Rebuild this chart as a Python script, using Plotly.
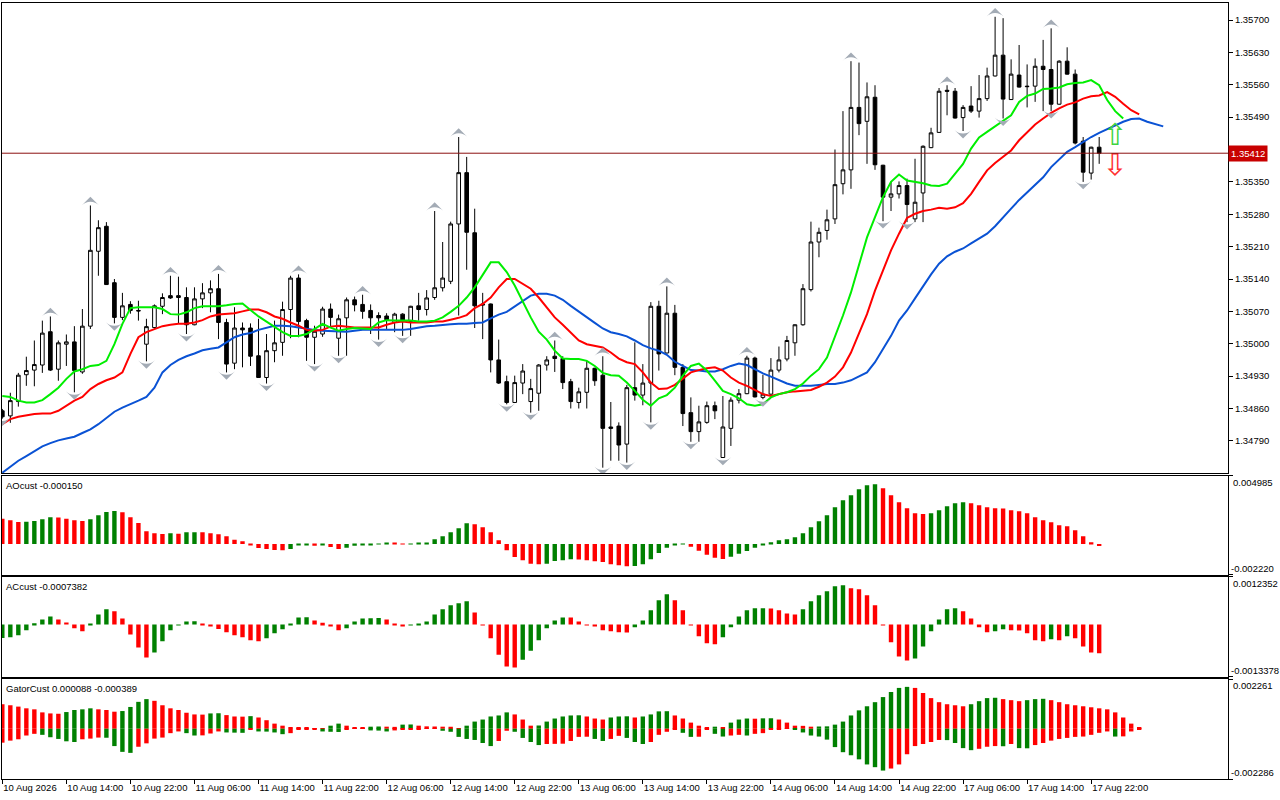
import numpy as np
import plotly.graph_objects as go
from plotly.subplots import make_subplots

# H1 bars, bar 0 = 10 Aug 2026 06:00
bar_open = [
    1.34855, 1.34844, 1.34875, 1.34933, 1.34943, 1.34954, 1.35026, 1.34945, 1.34999, 1.35004,
    1.34939, 1.35038, 1.35200, 1.35254, 1.35132, 1.35057, 1.35085, 1.35072, 1.34999, 1.35035,
    1.35081, 1.35104, 1.35104, 1.35100, 1.35041, 1.35097, 1.35110, 1.35119, 1.35046, 1.34958,
    1.35034, 1.35034, 1.34974, 1.34927, 1.34985, 1.35003, 1.35074, 1.35142, 1.35050, 1.35014,
    1.35021, 1.35075, 1.35012, 1.35056, 1.35095, 1.35085, 1.35072, 1.35061, 1.35060, 1.35046,
    1.35064, 1.35048, 1.35082, 1.35074, 1.35100, 1.35121, 1.35135, 1.35259, 1.35370, 1.35240,
    1.35086, 1.35086, 1.34965, 1.34918, 1.34873, 1.34915, 1.34875, 1.34893, 1.34954, 1.34973,
    1.34968, 1.34918, 1.34873, 1.34895, 1.34947, 1.34932, 1.34820, 1.34822, 1.34783, 1.34905,
    1.34889, 1.34915, 1.35081, 1.34980, 1.35066, 1.34949, 1.34851, 1.34810, 1.34830, 1.34866,
    1.34754, 1.34817, 1.34878, 1.34892, 1.34969, 1.34884, 1.34891, 1.34943, 1.34967, 1.35002,
    1.35041, 1.35117, 1.35220, 1.35245, 1.35270, 1.35346, 1.35376, 1.35511, 1.35481, 1.35533,
    1.35386, 1.35317, 1.35324, 1.35342, 1.35270, 1.35326, 1.35424, 1.35457, 1.35548, 1.35546,
    1.35489, 1.35514, 1.35503, 1.35530, 1.35579, 1.35624, 1.35528, 1.35581, 1.35557, 1.35557,
    1.35600, 1.35593, 1.35518, 1.35611, 1.35583, 1.35438, 1.35369, 1.35425,
]
bar_high = [
    1.34859, 1.34894, 1.34937, 1.34972, 1.35007, 1.35050, 1.35059, 1.35007, 1.35020, 1.35038,
    1.35075, 1.35299, 1.35267, 1.35263, 1.35140, 1.35110, 1.35092, 1.35093, 1.35054, 1.35085,
    1.35109, 1.35147, 1.35145, 1.35122, 1.35122, 1.35131, 1.35137, 1.35151, 1.35054, 1.35079,
    1.35046, 1.35044, 1.35054, 1.35021, 1.35050, 1.35091, 1.35147, 1.35150, 1.35054, 1.35039,
    1.35080, 1.35087, 1.35063, 1.35100, 1.35102, 1.35106, 1.35085, 1.35068, 1.35066, 1.35067,
    1.35066, 1.35082, 1.35110, 1.35116, 1.35287, 1.35220, 1.35264, 1.35447, 1.35404, 1.35292,
    1.35110, 1.35087, 1.35009, 1.34931, 1.34931, 1.34956, 1.34924, 1.34956, 1.34973, 1.35007,
    1.34973, 1.34924, 1.34905, 1.34963, 1.34948, 1.34973, 1.34874, 1.34830, 1.34911, 1.35003,
    1.34956, 1.35090, 1.35093, 1.35124, 1.35084, 1.34956, 1.34884, 1.34866, 1.34875, 1.34875,
    1.34887, 1.34884, 1.34902, 1.34974, 1.34972, 1.34933, 1.34969, 1.34994, 1.35017, 1.35042,
    1.35129, 1.35264, 1.35251, 1.35290, 1.35420, 1.35503, 1.35611, 1.35608, 1.35565, 1.35559,
    1.35387, 1.35350, 1.35351, 1.35357, 1.35400, 1.35429, 1.35467, 1.35553, 1.35559, 1.35553,
    1.35516, 1.35557, 1.35581, 1.35597, 1.35707, 1.35704, 1.35615, 1.35646, 1.35604, 1.35617,
    1.35657, 1.35682, 1.35613, 1.35641, 1.35593, 1.35447, 1.35426, 1.35447,
]
bar_low = [
    1.34838, 1.34829, 1.34864, 1.34909, 1.34908, 1.34937, 1.34941, 1.34920, 1.34952, 1.34895,
    1.34935, 1.35032, 1.35147, 1.35127, 1.35044, 1.35051, 1.35065, 1.35050, 1.34962, 1.35032,
    1.35064, 1.35097, 1.35044, 1.35021, 1.35040, 1.35077, 1.35068, 1.35010, 1.34938, 1.34945,
    1.34949, 1.34952, 1.34926, 1.34914, 1.34960, 1.34974, 1.35012, 1.35014, 1.34963, 1.34956,
    1.35015, 1.35035, 1.34974, 1.34974, 1.35070, 1.35054, 1.35021, 1.35009, 1.35032, 1.35025,
    1.35017, 1.35017, 1.35050, 1.35061, 1.35095, 1.35113, 1.35129, 1.35061, 1.35160, 1.35034,
    1.35010, 1.34938, 1.34913, 1.34869, 1.34872, 1.34891, 1.34851, 1.34855, 1.34942, 1.34939,
    1.34902, 1.34860, 1.34860, 1.34860, 1.34909, 1.34732, 1.34747, 1.34747, 1.34743, 1.34877,
    1.34867, 1.34830, 1.34942, 1.34979, 1.34932, 1.34822, 1.34788, 1.34788, 1.34827, 1.34837,
    1.34753, 1.34779, 1.34871, 1.34891, 1.34884, 1.34880, 1.34890, 1.34938, 1.34962, 1.34974,
    1.35039, 1.35113, 1.35187, 1.35225, 1.35259, 1.35323, 1.35335, 1.35451, 1.35389, 1.35376,
    1.35265, 1.35287, 1.35314, 1.35263, 1.35263, 1.35263, 1.35423, 1.35456, 1.35494, 1.35487,
    1.35460, 1.35499, 1.35489, 1.35525, 1.35578, 1.35487, 1.35527, 1.35554, 1.35511, 1.35523,
    1.35503, 1.35503, 1.35517, 1.35582, 1.35431, 1.35350, 1.35355, 1.35389,
]
bar_close = [
    1.34842, 1.34877, 1.34932, 1.34942, 1.34955, 1.35023, 1.34943, 1.35002, 1.35004, 1.34942,
    1.35038, 1.35202, 1.35251, 1.35128, 1.35057, 1.35082, 1.35072, 1.35071, 1.35037, 1.35082,
    1.35100, 1.35099, 1.35100, 1.35041, 1.35097, 1.35110, 1.35119, 1.35046, 1.34956, 1.35034,
    1.35030, 1.34973, 1.34927, 1.34985, 1.35002, 1.35074, 1.35142, 1.35048, 1.35014, 1.35027,
    1.35075, 1.35057, 1.35054, 1.35095, 1.35084, 1.35070, 1.35056, 1.35056, 1.35052, 1.35064,
    1.35048, 1.35081, 1.35074, 1.35099, 1.35121, 1.35142, 1.35259, 1.35370, 1.35241, 1.35082,
    1.35084, 1.34965, 1.34915, 1.34873, 1.34916, 1.34941, 1.34903, 1.34954, 1.34965, 1.34968,
    1.34916, 1.34875, 1.34896, 1.34947, 1.34920, 1.34817, 1.34817, 1.34781, 1.34905, 1.34889,
    1.34915, 1.35081, 1.34978, 1.35066, 1.34949, 1.34849, 1.34810, 1.34831, 1.34866, 1.34855,
    1.34820, 1.34878, 1.34892, 1.34969, 1.34885, 1.34891, 1.34943, 1.34965, 1.35007, 1.35041,
    1.35119, 1.35220, 1.35241, 1.35268, 1.35344, 1.35376, 1.35511, 1.35476, 1.35534, 1.35387,
    1.35317, 1.35324, 1.35342, 1.35301, 1.35306, 1.35427, 1.35456, 1.35546, 1.35546, 1.35488,
    1.35511, 1.35503, 1.35530, 1.35579, 1.35624, 1.35529, 1.35583, 1.35555, 1.35556, 1.35600,
    1.35593, 1.35518, 1.35611, 1.35583, 1.35434, 1.35371, 1.35425, 1.35412,
]

# Alligator lines as drawn (lips +3 bars, teeth +5, jaw +8 ahead of price)
lips = [
    1.34887, 1.34885, 1.34877, 1.34873, 1.34873, 1.34878, 1.34891, 1.34905, 1.34924, 1.34940,
    1.34945, 1.34952, 1.34954, 1.34963, 1.34999, 1.35043, 1.35077, 1.35079, 1.35079, 1.35079,
    1.35075, 1.35064, 1.35063, 1.35068, 1.35077, 1.35081, 1.35081, 1.35081, 1.35083, 1.35086,
    1.35087, 1.35072, 1.35059, 1.35048, 1.35037, 1.35025, 1.35017, 1.35017, 1.35021, 1.35032,
    1.35043, 1.35035, 1.35028, 1.35032, 1.35034, 1.35033, 1.35032, 1.35046, 1.35051, 1.35050,
    1.35050, 1.35050, 1.35048, 1.35048, 1.35050, 1.35057, 1.35069, 1.35082, 1.35100, 1.35122,
    1.35149, 1.35176, 1.35176, 1.35155, 1.35126, 1.35090, 1.35057, 1.35026, 1.35009, 1.34985,
    1.34968, 1.34967, 1.34967, 1.34963, 1.34952, 1.34937, 1.34932, 1.34931, 1.34916, 1.34898,
    1.34879, 1.34866, 1.34882, 1.34889, 1.34905, 1.34931, 1.34952, 1.34957, 1.34942, 1.34920,
    1.34898, 1.34891, 1.34882, 1.34869, 1.34866, 1.34869, 1.34884, 1.34891, 1.34895, 1.34902,
    1.34914, 1.34931, 1.34945, 1.34970, 1.35014, 1.35061, 1.35111, 1.35173, 1.35230, 1.35274,
    1.35317, 1.35350, 1.35366, 1.35353, 1.35350, 1.35347, 1.35342, 1.35341, 1.35346, 1.35368,
    1.35389, 1.35422, 1.35446, 1.35458, 1.35470, 1.35482, 1.35494, 1.35523, 1.35536, 1.35541,
    1.35551, 1.35552, 1.35554, 1.35561, 1.35564, 1.35565, 1.35570, 1.35559, 1.35527, 1.35503,
    1.35487,
]
teeth = [
    1.34826, 1.34837, 1.34842, 1.34845, 1.34848, 1.34849, 1.34849, 1.34855, 1.34866, 1.34877,
    1.34885, 1.34902, 1.34913, 1.34921, 1.34927, 1.34938, 1.34978, 1.35014, 1.35025, 1.35032,
    1.35038, 1.35041, 1.35043, 1.35043, 1.35046, 1.35051, 1.35059, 1.35063, 1.35064, 1.35066,
    1.35070, 1.35074, 1.35074, 1.35068, 1.35059, 1.35054, 1.35046, 1.35039, 1.35030, 1.35028,
    1.35030, 1.35037, 1.35039, 1.35037, 1.35035, 1.35035, 1.35035, 1.35035, 1.35041, 1.35046,
    1.35048, 1.35046, 1.35046, 1.35046, 1.35048, 1.35048, 1.35052, 1.35056, 1.35062, 1.35077,
    1.35086, 1.35100, 1.35122, 1.35140, 1.35140, 1.35129, 1.35119, 1.35100, 1.35079, 1.35057,
    1.35041, 1.35023, 1.35007, 1.34999, 1.34996, 1.34992, 1.34981, 1.34968, 1.34960, 1.34956,
    1.34938, 1.34916, 1.34902, 1.34903, 1.34911, 1.34924, 1.34938, 1.34943, 1.34947, 1.34949,
    1.34942, 1.34927, 1.34916, 1.34909, 1.34900, 1.34891, 1.34887, 1.34891, 1.34895, 1.34897,
    1.34898, 1.34900, 1.34907, 1.34916, 1.34929, 1.34949, 1.34981, 1.35021, 1.35064, 1.35115,
    1.35158, 1.35202, 1.35238, 1.35272, 1.35281, 1.35287, 1.35290, 1.35294, 1.35292, 1.35295,
    1.35304, 1.35324, 1.35350, 1.35375, 1.35391, 1.35404, 1.35418, 1.35440, 1.35458, 1.35474,
    1.35487, 1.35499, 1.35509, 1.35517, 1.35522, 1.35530, 1.35535, 1.35537, 1.35544, 1.35534,
    1.35519, 1.35505, 1.35496,
]
jaw = [
    1.34721, 1.34734, 1.34747, 1.34757, 1.34768, 1.34778, 1.34785, 1.34791, 1.34795, 1.34799,
    1.34807, 1.34815, 1.34826, 1.34839, 1.34853, 1.34862, 1.34869, 1.34877, 1.34885, 1.34905,
    1.34938, 1.34954, 1.34965, 1.34973, 1.34979, 1.34986, 1.34989, 1.34992, 1.35003, 1.35014,
    1.35020, 1.35023, 1.35030, 1.35035, 1.35039, 1.35039, 1.35038, 1.35035, 1.35032, 1.35030,
    1.35028, 1.35027, 1.35026, 1.35026, 1.35028, 1.35030, 1.35030, 1.35030, 1.35030, 1.35030,
    1.35030, 1.35032, 1.35035, 1.35038, 1.35039, 1.35041, 1.35042, 1.35043, 1.35043, 1.35045,
    1.35046, 1.35055, 1.35063, 1.35069, 1.35081, 1.35093, 1.35104, 1.35108, 1.35108, 1.35104,
    1.35095, 1.35082, 1.35069, 1.35057, 1.35045, 1.35033, 1.35025, 1.35021, 1.35016, 1.35007,
    1.34997, 1.34990, 1.34985, 1.34976, 1.34961, 1.34952, 1.34943, 1.34942, 1.34940, 1.34940,
    1.34945, 1.34952, 1.34957, 1.34954, 1.34945, 1.34936, 1.34929, 1.34921, 1.34914, 1.34909,
    1.34909, 1.34909, 1.34911, 1.34913, 1.34913, 1.34916, 1.34921, 1.34929, 1.34938, 1.34960,
    1.34989, 1.35017, 1.35050, 1.35072, 1.35098, 1.35124, 1.35150, 1.35173, 1.35189, 1.35199,
    1.35206, 1.35217, 1.35228, 1.35238, 1.35254, 1.35274, 1.35292, 1.35311, 1.35328, 1.35345,
    1.35360, 1.35382, 1.35398, 1.35415, 1.35425, 1.35436, 1.35447, 1.35456, 1.35464, 1.35472,
    1.35480, 1.35486, 1.35487, 1.35480, 1.35475, 1.35470,
]

fractal_up = [6, 11, 21, 27, 37, 45, 54, 57, 69, 75, 83, 93, 106, 118, 124, 131]
fractal_down = [0, 9, 14, 18, 23, 28, 33, 39, 42, 47, 50, 63, 66, 75, 78, 81, 86, 90, 95,
                110, 113, 120, 125, 131, 135]

# signal arrows right of the last bar
signal_bar = [139]
signal_buy = [1.35446]
signal_sell = [1.35382]

# oscillators, in millionths
ao_micro = [
    1844, 1723, 1602, 1626, 1675, 1796, 1942, 1929, 1844, 1723,
    1675, 1796, 2087, 2330, 2403, 2306, 1942, 1529, 922, 777,
    728, 777, 752, 849, 862, 849, 777, 704, 558, 316,
    194, -73, -291, -364, -437, -461, -364, -97, -73, -121,
    -61, -218, -364, -267, -121, -73, -49, -24, 97, 49,
    24, 36, 49, 61, 340, 558, 849, 1141, 1505, 1432,
    1214, 849, 267, -461, -947, -1189, -1432, -1480, -1432, -1238,
    -1189, -1116, -1129, -1189, -1262, -1311, -1480, -1553, -1626, -1602,
    -1480, -1116, -655, -267, -49, -36, -194, -485, -777, -995,
    -1092, -922, -704, -510, -267, -49, 121, 267, 340, 485,
    777, 1214, 1650, 2087, 2670, 3179, 3543, 3980, 4272, 4344,
    4053, 3543, 3034, 2597, 2233, 2184, 2233, 2451, 2743, 2961,
    3034, 2961, 2815, 2670, 2597, 2585, 2451, 2378, 2233, 1942,
    1723, 1578, 1359, 1286, 995, 558, 121, -150,
]
ac_micro = [
    -346, -329, -277, -147, 35, 130, 208, 130, 52, -95,
    -173, 9, 260, 390, 338, 156, -260, -589, -849, -719,
    -433, -147, -9, 78, 82, 26, -43, -113, -199, -277,
    -329, -407, -433, -355, -225, -121, 26, 182, 186, 104,
    43, -26, -147, -95, 78, 156, 160, 165, 130, 17,
    -35, -17, 4, 78, 260, 390, 494, 546, 598, 312,
    -9, -355, -779, -1083, -1108, -909, -675, -407, -95, 104,
    182, 178, 78, -9, -43, -147, -173, -199, -204, -69,
    104, 364, 624, 779, 624, 364, -9, -303, -485, -511,
    -329, -69, 208, 364, 416, 420, 411, 364, 286, 260,
    390, 598, 753, 857, 987, 1013, 935, 909, 753, 494,
    -9, -459, -823, -927, -875, -563, -173, 130, 390, 416,
    338, 156, -69, -199, -173, -121, -147, -152, -225, -407,
    -433, -381, -407, -303, -355, -563, -719, -738,
]
gator_up_micro = [
    1114, 1067, 1006, 928, 882, 743, 696, 681, 758, 851,
    882, 928, 882, 851, 774, 804, 990, 1222, 1346, 1269,
    1067, 928, 851, 727, 650, 642, 696, 704, 619, 557,
    549, 572, 511, 387, 232, 139, 77, 46, 39, 31,
    8, 139, 232, 139, 62, 54, 93, 101, 93, 85,
    186, 193, 139, 108, 101, 93, 90, 8, 139, 325,
    418, 557, 603, 743, 650, 418, 139, 147, 325, 464,
    557, 603, 611, 557, 464, 418, 511, 557, 565, 511,
    557, 650, 789, 797, 603, 464, 278, 139, 46, 93,
    46, 278, 418, 464, 456, 472, 476, 418, 278, 139,
    131, 93, 101, 108, 186, 325, 603, 835, 1021, 1207,
    1439, 1671, 1856, 1903, 1856, 1624, 1392, 1207, 1114, 1067,
    1021, 1114, 1253, 1392, 1408, 1346, 1299, 1253, 1299, 1346,
    1361, 1299, 1207, 1114, 1067, 1021, 975, 928, 882, 743,
    511, 232, 46,
]
gator_down_micro = [
    634, 541, 480, 309, 232, 278, 387, 464, 572, 603,
    480, 449, 402, 410, 789, 1052, 1098, 820, 665, 449,
    402, 201, 124, 201, 309, 302, 217, 124, 170, 178,
    186, 46, 124, 131, 170, 248, 201, 46, 39, 31,
    124, 139, 147, 15, 12, 9, 77, 85, 124, 77,
    31, 23, 15, 12, 9, 93, 139, 371, 464, 511,
    650, 789, 557, 93, 139, 418, 603, 743, 696, 688,
    681, 557, 371, 364, 464, 557, 464, 325, 418, 603,
    696, 603, 278, 139, 46, 186, 371, 364, 46, 232,
    356, 309, 278, 309, 232, 201, 31, 15, 8, 31,
    170, 309, 356, 495, 835, 1067, 1207, 1392, 1624, 1748,
    1903, 1810, 1624, 1160, 789, 696, 603, 511, 518, 650,
    882, 975, 913, 820, 789, 797, 696, 882, 890, 743,
    650, 541, 464, 418, 371, 356, 278, 186, 124, 356,
    348, 124, 31,
]

time_labels = [
    "10 Aug 2026", "10 Aug 14:00", "10 Aug 22:00", "11 Aug 06:00", "11 Aug 14:00",
    "11 Aug 22:00", "12 Aug 06:00", "12 Aug 14:00", "12 Aug 22:00", "13 Aug 06:00",
    "13 Aug 14:00", "13 Aug 22:00", "14 Aug 06:00", "14 Aug 14:00", "14 Aug 22:00",
    "17 Aug 06:00", "17 Aug 14:00", "17 Aug 22:00",
]
label_step = 8

GREEN = "#008000"
RED = "#ff0000"
FONT = "Liberation Sans"


def rising(vals, first):
    out = [GREEN if first else RED]
    for a, b in zip(vals[:-1], vals[1:]):
        out.append(GREEN if b > a else RED)
    return out


ao = np.array(ao_micro) * 1e-6
ac = np.array(ac_micro) * 1e-6
g_up = np.array(gator_up_micro) * 1e-6
g_dn = np.array(gator_down_micro) * 1e-6
n = len(bar_close)
idx = np.arange(n)
o = np.array(bar_open); h = np.array(bar_high); l = np.array(bar_low); c = np.array(bar_close)

fig = make_subplots(rows=4, cols=1, shared_xaxes=True)

fig.add_trace(go.Candlestick(
    x=idx, open=o, high=h, low=l, close=c,
    increasing=dict(line=dict(color="black", width=1), fillcolor="white"),
    decreasing=dict(line=dict(color="black", width=1), fillcolor="black"),
    whiskerwidth=0, hoverinfo="skip"), row=1, col=1)

fig.add_trace(go.Scatter(x=np.arange(len(jaw)), y=jaw, mode="lines",
                         line=dict(color="#0a52d4", width=2)), row=1, col=1)
fig.add_trace(go.Scatter(x=np.arange(len(teeth)), y=teeth, mode="lines",
                         line=dict(color="#ff0000", width=2)), row=1, col=1)
fig.add_trace(go.Scatter(x=np.arange(len(lips)), y=lips, mode="lines",
                         line=dict(color="#00ee00", width=2)), row=1, col=1)

# fractals
fig.add_trace(go.Scatter(x=fractal_up, y=h[fractal_up] + 0.00019, mode="markers",
                         marker=dict(symbol="arrow-wide", size=12, color="#a3abb5", angle=0,
                                     line=dict(width=0))), row=1, col=1)
fig.add_trace(go.Scatter(x=fractal_down, y=l[fractal_down] - 0.00016, mode="markers",
                         marker=dict(symbol="arrow-wide", size=12, color="#a3abb5", angle=180,
                                     line=dict(width=0))), row=1, col=1)

fig.add_trace(go.Scatter(x=signal_bar, y=signal_buy, mode="text", text=["\u21e7"],
                         textfont=dict(size=30, color="#3fd43f", family="DejaVu Sans")),
              row=1, col=1)
fig.add_trace(go.Scatter(x=signal_bar, y=signal_sell, mode="text", text=["\u21e9"],
                         textfont=dict(size=30, color="#ff3030", family="DejaVu Sans")),
              row=1, col=1)

fig.add_hline(y=c[-1], line=dict(color="#8c1010", width=1), row=1, col=1)

fig.add_trace(go.Bar(x=idx, y=ao, marker=dict(color=rising(ao, False), line=dict(width=0)),
                     width=0.55), row=2, col=1)
fig.add_trace(go.Bar(x=idx, y=ac, marker=dict(color=rising(ac, True), line=dict(width=0)),
                     width=0.55), row=3, col=1)
gx = np.arange(len(g_up))
fig.add_trace(go.Bar(x=gx, y=g_up, marker=dict(color=rising(g_up, False), line=dict(width=0)),
                     width=0.55), row=4, col=1)
fig.add_trace(go.Bar(x=gx, y=-g_dn, marker=dict(color=rising(g_dn, False), line=dict(width=0)),
                     width=0.55), row=4, col=1)

# layout: plot area from y=3 to y=779 px
H = 776.0
B = 779
domains = [[(B - 473) / H, 1.0], [(B - 574.5) / H, (B - 475.5) / H],
           [(B - 676.5) / H, (B - 576.5) / H], [0.0, (B - 679) / H]]
ranges = [[1.347205, 1.357368], [-0.002220, 0.004985],
          [-0.0013378, 0.0012352], [-0.002286, 0.002261]]
edge_text = [None, ["0.004985", "-0.002220"], ["0.0012352", "-0.0013378"],
             ["0.002261", "-0.002286"]]
titles = [None, "AOcust -0.000150", "ACcust -0.0007382", "GatorCust 0.000088 -0.000389"]

x_range = [-0.04, 153.09]
axis_common = dict(showline=True, mirror=True, linecolor="black", linewidth=1,
                   showgrid=False, zeroline=False, fixedrange=True, automargin=False)
tickfont = dict(family=FONT, size=9.5, color="black")
small = dict(family=FONT, size=9.5, color="black")

price_ticks = np.round(np.arange(1.34790, 1.35701, 0.0007), 5)
price_ticks = [v for v in price_ticks if abs(v - c[-1]) > 0.0002]

for r in range(4):
    fig.update_xaxes(row=r + 1, col=1, range=x_range, rangeslider_visible=False,
                     **axis_common)
    ykw = dict(domain=domains[r], range=ranges[r], side="right", ticks="outside",
               ticklen=4, tickcolor="black", tickfont=tickfont, **axis_common)
    if r == 0:
        ykw.update(tickvals=price_ticks, tickformat=".5f")
    else:
        lo, hi = ranges[r]
        ykw.update(tickvals=[lo, hi], ticktext=["", ""])
        yref = "y%d" % (r + 1)
        fig.add_annotation(text=edge_text[r][0], xref="paper", yref=yref, x=1.0, y=hi,
                           xanchor="left", yanchor="top", showarrow=False, xshift=3,
                           yshift=1, font=small)
        fig.add_annotation(text=edge_text[r][1], xref="paper", yref=yref, x=1.0, y=lo,
                           xanchor="left", yanchor="bottom", showarrow=False, xshift=1,
                           yshift=-1, font=small)
        fig.add_annotation(text=titles[r], xref="paper", yref="paper", x=0.002,
                           y=domains[r][1] - 2 / H, xanchor="left", yanchor="top",
                           showarrow=False, font=small)
    fig.update_yaxes(row=r + 1, col=1, **ykw)

fig.update_xaxes(row=4, col=1, tickvals=list(range(0, n, label_step))[:len(time_labels)],
                 ticktext=time_labels, ticks="outside", ticklen=4, tickcolor="black",
                 ticklabelposition="outside right", tickangle=0, tickfont=tickfont,
                 showticklabels=True)
for r in range(1, 4):
    fig.update_xaxes(row=r, col=1, showticklabels=False, ticks="")

# current price box on the scale
fig.add_annotation(text=f"{c[-1]:.5f}", xref="paper", yref="y", x=1.0, y=c[-1],
                   xanchor="left", yanchor="middle", showarrow=False, xshift=0,
                   bgcolor="#c80000", borderpad=2,
                   font=dict(family=FONT, size=9.5, color="white"))

fig.update_layout(width=1280, height=800, showlegend=False, hovermode=False,
                  plot_bgcolor="white", paper_bgcolor="white", barmode="overlay",
                  boxgap=0.35, margin=dict(l=2, r=52, t=3, b=21, autoexpand=False))

fig.write_html("out.html", config={"displayModeBar": False},
               post_script="document.body.style.margin='0';"
                           "document.body.style.overflow='hidden';")
